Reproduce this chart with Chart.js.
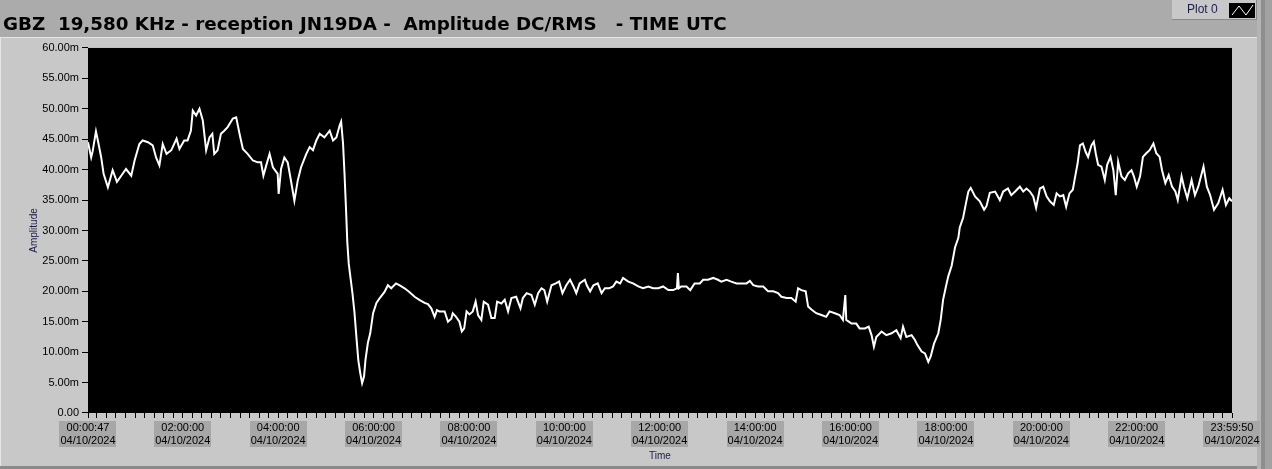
<!DOCTYPE html>
<html>
<head>
<meta charset="utf-8">
<script src="https://cdn.jsdelivr.net/npm/chart.js@4.4.1/dist/chart.umd.min.js"></script>
<style>
  html, body { margin: 0; padding: 0; background: #c8c8c8; }
</style>
</head>
<body>
<canvas id="graph" width="1272" height="469"></canvas>
<script>
// time in hours UTC, amplitude in milli-units (the "m" on the axis)
const hours = [
  0.013, 0.08, 0.11, 0.18, 0.22, 0.29, 0.34, 0.43, 0.53, 0.62, 0.71, 0.81, 0.92, 0.99,
  1.09, 1.16, 1.27, 1.37, 1.44, 1.51, 1.58, 1.66, 1.76, 1.87, 1.93,
  2.03, 2.10, 2.17, 2.21, 2.28, 2.35, 2.42, 2.49, 2.56, 2.62, 2.66, 2.73, 2.80, 2.87, 2.94,
  3.05, 3.12, 3.19, 3.26, 3.36, 3.47, 3.57, 3.64, 3.69, 3.75, 3.82, 3.89, 3.99,
  4.01, 4.06, 4.13, 4.20, 4.25, 4.34, 4.41, 4.48, 4.59, 4.66, 4.73, 4.80, 4.87, 4.97,
  5.08, 5.15, 5.22, 5.29, 5.32, 5.36, 5.39, 5.42, 5.45, 5.48, 5.52, 5.56, 5.60, 5.64, 5.68, 5.72, 5.76, 5.80, 5.83, 5.88, 5.93, 5.99,
  6.06, 6.13, 6.23, 6.30, 6.37, 6.47, 6.54, 6.65, 6.75, 6.86, 6.96,
  7.07, 7.14, 7.21, 7.28, 7.33, 7.38, 7.49, 7.56, 7.63, 7.66, 7.73, 7.80, 7.85, 7.90, 7.95,
  8.01, 8.08, 8.14, 8.19, 8.26, 8.31, 8.40, 8.47, 8.54, 8.59, 8.68, 8.75, 8.82, 8.89, 8.99,
  9.08, 9.13, 9.21, 9.31, 9.38, 9.45, 9.52, 9.58, 9.64, 9.73, 9.82, 9.89, 9.96,
  10.04, 10.12, 10.19, 10.25, 10.32, 10.43, 10.47, 10.54, 10.61, 10.70, 10.78, 10.85, 10.94,
  11.02, 11.09, 11.17, 11.23, 11.34, 11.44, 11.55, 11.65, 11.76, 11.86, 11.97,
  12.07, 12.18, 12.28, 12.36, 12.38, 12.40, 12.45, 12.56, 12.64, 12.73, 12.84, 12.91,
  13.01, 13.12, 13.22, 13.29, 13.40, 13.50, 13.61, 13.71, 13.82, 13.89, 13.96,
  14.06, 14.17, 14.27, 14.38, 14.48, 14.55, 14.66, 14.76, 14.85, 14.90, 14.97,
  15.06, 15.11, 15.18, 15.28, 15.39, 15.49, 15.56, 15.67, 15.77, 15.84, 15.89, 15.91,
  16.02, 16.12, 16.19, 16.30, 16.38, 16.44, 16.49, 16.54, 16.65, 16.75, 16.86, 16.96,
  17.05, 17.10, 17.17, 17.28, 17.35, 17.40, 17.49, 17.56, 17.63, 17.68, 17.75, 17.84, 17.89, 17.94,
  18.00, 18.05, 18.12, 18.19, 18.26, 18.29, 18.36, 18.42, 18.47, 18.52, 18.61, 18.71, 18.80, 18.85, 18.92,
  19.03, 19.13, 19.20, 19.30, 19.37, 19.45, 19.55, 19.62, 19.69, 19.76, 19.83, 19.89, 19.97,
  20.04, 20.11, 20.18, 20.26, 20.32, 20.39, 20.46, 20.52, 20.59, 20.66, 20.71, 20.76, 20.81, 20.87, 20.93, 20.98,
  21.05, 21.10, 21.14, 21.19, 21.26, 21.33, 21.38, 21.45, 21.51, 21.56, 21.61, 21.68, 21.75, 21.82, 21.89, 21.94,
  22.00, 22.07, 22.13, 22.20, 22.27, 22.35, 22.41, 22.48, 22.53, 22.60, 22.67, 22.74, 22.81, 22.86, 22.94, 22.99,
  23.06, 23.15, 23.22, 23.29, 23.40, 23.47, 23.54, 23.62, 23.71, 23.80, 23.87, 23.94, 23.997
];
const amplitude = [
  44.5, 42.0, 43.0, 46.3, 44.8, 42.0, 39.3, 37.1, 39.9, 38.0, 39.0, 40.1, 39.0, 41.5,
  44.2, 44.8, 44.5, 44.0, 42.0, 40.7, 44.2, 42.6, 43.2, 45.1, 43.4,
  44.8, 44.8, 46.4, 49.7, 48.9, 50.0, 48.1, 43.2, 45.3, 45.9, 42.6, 43.2, 45.9, 46.4, 47.0,
  48.4, 48.6, 45.9, 43.4, 42.6, 41.5, 41.2, 41.2, 39.0, 40.7, 42.6, 40.4, 39.3,
  36.0, 40.1, 42.0, 41.2, 39.0, 34.9, 38.2, 40.4, 42.6, 43.7, 43.2, 44.8, 45.9, 45.3,
  46.4, 44.8, 45.3, 47.3, 47.9, 44.3, 39.5, 34.0, 28.0, 24.5, 22.0, 19.5, 16.5, 12.5, 8.7, 6.6, 4.9, 6.0, 8.7, 11.5, 13.1, 16.4,
  18.1, 18.9, 19.9, 21.0, 20.5, 21.3, 21.0, 20.5, 19.9, 19.1, 18.6,
  18.1, 17.9, 17.2, 15.8, 16.9, 16.7, 16.7, 15.0, 15.5, 16.4, 15.8, 15.0, 13.4, 13.9, 16.7,
  16.2, 16.7, 18.3, 16.1, 15.3, 18.3, 17.8, 15.6, 15.6, 18.3, 18.0, 18.6, 16.7, 18.9, 19.1,
  17.2, 18.9, 19.7, 19.4, 17.8, 19.7, 20.5, 20.2, 18.3, 21.0, 21.3, 21.6, 19.7,
  21.0, 21.9, 20.8, 19.7, 21.3, 21.9, 21.0, 20.0, 21.0, 21.3, 19.7, 20.5, 20.5,
  20.8, 21.6, 21.3, 22.2, 21.6, 21.3, 20.8, 20.5, 20.8, 20.5, 20.5,
  20.8, 20.2, 20.2, 20.5, 23.0, 20.5, 20.8, 20.8, 20.2, 21.3, 21.3, 21.9,
  21.9, 22.2, 21.9, 21.6, 21.9, 21.6, 21.3, 21.3, 21.3, 21.7, 21.0,
  20.8, 20.8, 20.0, 20.0, 19.7, 19.1, 18.9, 18.9, 18.3, 20.5, 20.2,
  20.0, 17.5, 17.0, 16.4, 16.1, 15.8, 16.7, 16.4, 16.1, 15.3, 19.4, 15.3,
  14.7, 14.7, 13.9, 13.9, 14.2, 12.8, 10.9, 12.5, 13.4, 12.8, 13.1, 13.6,
  12.3, 14.2, 12.5, 12.8, 12.0, 11.2, 10.1, 9.8, 8.4, 9.3, 11.4, 13.1, 15.3, 18.6,
  20.8, 22.5, 24.2, 27.2, 28.8, 30.5, 32.1, 34.5, 36.4, 37.0, 35.6, 34.8, 33.4, 34.0, 36.2,
  36.4, 35.0, 36.4, 36.9, 35.8, 36.4, 37.2, 36.4, 36.9, 36.4, 35.6, 33.7, 36.9,
  37.2, 35.6, 34.8, 34.2, 36.1, 35.6, 35.8, 33.9, 36.1, 36.7, 38.9, 41.0, 44.0, 44.3, 42.9, 42.1,
  44.0, 44.6, 42.7, 40.8, 40.5, 38.3, 40.8, 42.1, 39.9, 35.8, 41.3, 38.9, 38.3, 39.4, 39.9, 38.9,
  37.2, 38.9, 42.1, 42.7, 43.2, 44.3, 42.7, 42.1, 39.9, 37.8, 39.1, 37.2, 36.4, 35.0, 38.9, 37.2,
  35.3, 38.3, 35.8, 37.2, 40.5, 37.2, 35.8, 33.4, 34.5, 36.7, 34.2, 35.3, 34.8
];

const majorHours = [0.0131, 2, 4, 6, 8, 10, 12, 14, 16, 18, 20, 22, 23.9972];
const majorLabels = ['00:00:47', '02:00:00', '04:00:00', '06:00:00', '08:00:00', '10:00:00', '12:00:00',
  '14:00:00', '16:00:00', '18:00:00', '20:00:00', '22:00:00', '23:59:50'];
const dateLabel = '04/10/2024';
const yTickLabels = ['0.00', '5.00m', '10.00m', '15.00m', '20.00m', '25.00m', '30.00m',
  '35.00m', '40.00m', '45.00m', '50.00m', '55.00m', '60.00m'];

const titleText = 'GBZ  19,580 KHz - reception JN19DA -  Amplitude DC/RMS   - TIME UTC';
const tickFont = { family: 'Liberation Sans', size: 11, lineHeight: 1.2 };
const xTickLength = 5;
const xTickPadding = 3;

function majorIndex(v) {
  return majorHours.findIndex(h => Math.abs(h - v) < 1e-6);
}

// fundo cinza, painel, legenda "Plot 0", area preta e caixas dos rotulos do eixo X
const panelPlugin = {
  id: 'panel',
  beforeDraw(chart) {
    const ctx = chart.ctx;
    const { width, height } = chart;
    const area = chart.chartArea;
    ctx.save();
    ctx.fillStyle = '#c8c8c8';
    ctx.fillRect(0, 0, width, height);
    ctx.fillStyle = '#ababab';
    ctx.fillRect(0, 0, width, 37);
    ctx.fillStyle = '#e6e6e6';
    ctx.fillRect(0, 37, 1257, 1);
    ctx.fillRect(0, 37, 1, height);
    // borda direita
    ctx.fillStyle = '#b4b4b4';
    ctx.fillRect(1257, 0, 4, height);
    ctx.fillStyle = '#8e8e8e';
    ctx.fillRect(1261, 0, 4, height);
    ctx.fillStyle = '#a2a2a2';
    ctx.fillRect(1265, 0, 7, height);
    ctx.fillStyle = '#8a8a8a';
    ctx.fillRect(0, 466, 1257, 3);

    // legenda
    ctx.fillStyle = '#c8c8c8';
    ctx.fillRect(1172, 0, 85, 20);
    ctx.fillStyle = '#8a8a8a';
    ctx.fillRect(1172, 19, 85, 1);
    ctx.fillRect(1256, 0, 1, 20);
    ctx.fillStyle = '#1c1c48';
    ctx.font = '12px "Liberation Sans"';
    ctx.textBaseline = 'middle';
    ctx.fillText('Plot 0', 1187, 10);
    ctx.fillStyle = '#000';
    ctx.fillRect(1229, 3, 26, 15);
    ctx.strokeStyle = '#fff';
    ctx.lineWidth = 1;
    ctx.beginPath();
    ctx.moveTo(1232, 15);
    ctx.lineTo(1239, 6);
    ctx.lineTo(1246, 15);
    ctx.lineTo(1253, 5);
    ctx.stroke();

    ctx.fillStyle = '#000';
    ctx.fillRect(area.left, area.top, area.right - area.left, area.bottom - area.top);

    // caixas cinza atras dos rotulos de tempo
    const xScale = chart.scales.x;
    ctx.font = tickFont.size + 'px "' + tickFont.family + '"';
    const lineH = tickFont.size * tickFont.lineHeight;
    const top = area.bottom + xTickLength + xTickPadding;
    ctx.fillStyle = '#a7a7a7';
    majorHours.forEach((h, i) => {
      const w = Math.max(ctx.measureText(majorLabels[i]).width, ctx.measureText(dateLabel).width) + 2;
      const px = xScale.getPixelForValue(h);
      ctx.fillRect(Math.round(px - w / 2), top, Math.round(w), Math.round(lineH * 2));
    });
    ctx.restore();
  }
};

const points = hours.map((h, i) => ({ x: h, y: amplitude[i] }));

const graphicArea = document.getElementById('graph');

const config = {
  type: 'line',
  data: {
    datasets: [{
      label: 'Plot 0',
      data: points,
      borderColor: '#ffffff',
      borderWidth: 2,
      pointRadius: 0,
      tension: 0
    }]
  },
  options: {
    responsive: false,
    animation: false,
    layout: { padding: { left: 3, right: 40, top: 0, bottom: 0 } },
    plugins: {
      legend: { display: false },
      tooltip: { enabled: false },
      title: {
        display: true,
        text: titleText,
        align: 'start',
        color: '#000',
        font: { family: 'DejaVu Sans', size: 18.3, weight: 'bold' },
        padding: { top: 14, bottom: 12 }
      }
    },
    scales: {
      x: {
        type: 'linear',
        min: majorHours[0],
        max: majorHours[majorHours.length - 1],
        afterFit(scale) { scale.height = 56; },
        afterBuildTicks(scale) {
          const ticks = majorHours.map(v => ({ value: v }));
          for (let i = 1; i < 120; i++) {
            if (i % 10 !== 0) ticks.push({ value: i / 5 });
          }
          ticks.sort((a, b) => a.value - b.value);
          scale.ticks = ticks;
        },
        grid: { drawOnChartArea: false, tickLength: xTickLength, color: '#000' },
        border: { display: false },
        ticks: {
          autoSkip: false,
          maxRotation: 0,
          padding: xTickPadding,
          color: '#000',
          font: tickFont,
          callback: value => {
            const idx = majorIndex(value);
            return idx >= 0 ? [majorLabels[idx], dateLabel] : '';
          }
        },
        title: {
          display: true,
          text: 'Time',
          color: '#1c1c48',
          font: { family: 'Liberation Sans', size: 10 },
          padding: { top: 0, bottom: 7 }
        }
      },
      y: {
        min: 0,
        max: 60,
        afterFit(scale) { scale.width = 85; },
        grid: { drawOnChartArea: false, tickLength: 6, color: '#000' },
        border: { display: false },
        ticks: {
          stepSize: 5,
          padding: 3,
          color: '#000',
          font: tickFont,
          callback: value => yTickLabels[Math.round(value / 5)]
        },
        title: {
          display: true,
          text: 'Amplitude',
          color: '#1c1c48',
          font: { family: 'Liberation Sans', size: 10 },
          padding: { top: 25, bottom: 0 }
        }
      }
    }
  },
  plugins: [panelPlugin]
};

let myChart = new Chart(graphicArea, config);
</script>
</body>
</html>
